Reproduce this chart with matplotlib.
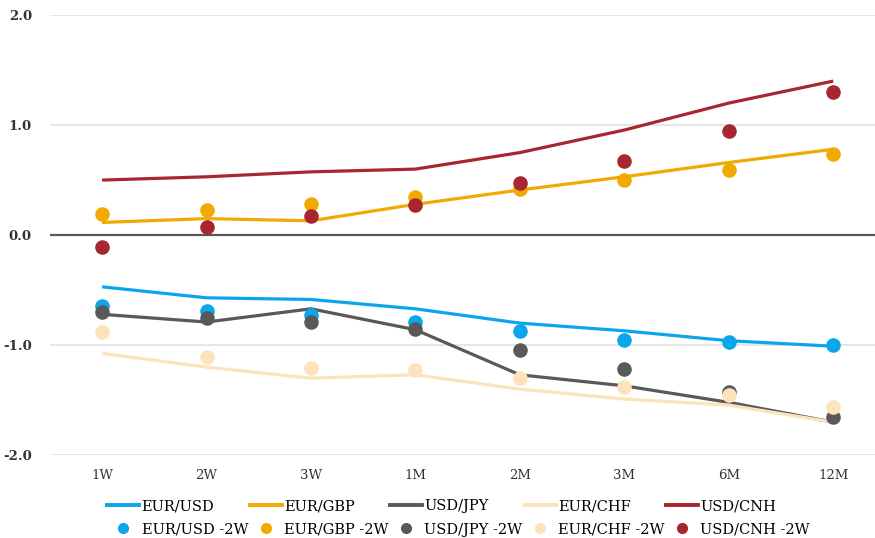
import matplotlib.pyplot as plt
from matplotlib.lines import Line2D

tenors = ["1W", "2W", "3W", "1M", "2M", "3M", "6M", "12M"]

# current values (lines)
eurusd = [-0.47, -0.57, -0.585, -0.67, -0.80, -0.87, -0.96, -1.01]
eurgbp = [0.115, 0.15, 0.13, 0.28, 0.41, 0.53, 0.66, 0.78]
usdjpy = [-0.72, -0.79, -0.67, -0.86, -1.27, -1.37, -1.52, -1.70]
eurchf = [-1.075, -1.20, -1.30, -1.27, -1.40, -1.49, -1.545, -1.70]
usdcnh = [0.50, 0.53, 0.575, 0.60, 0.75, 0.955, 1.20, 1.40]

# two weeks ago (dots)
eurusd_2w = [-0.64, -0.69, -0.73, -0.79, -0.87, -0.95, -0.975, -1.0]
eurgbp_2w = [0.19, 0.23, 0.28, 0.35, 0.415, 0.50, 0.59, 0.74]
usdjpy_2w = [-0.70, -0.75, -0.79, -0.855, -1.045, -1.22, -1.43, -1.65]
eurchf_2w = [-0.885, -1.11, -1.21, -1.23, -1.30, -1.385, -1.455, -1.56]
usdcnh_2w = [-0.106, 0.075, 0.17, 0.27, 0.47, 0.67, 0.95, 1.30]

series = [
    ("EUR/USD", eurusd, eurusd_2w, "#0ba5ec"),
    ("EUR/GBP", eurgbp, eurgbp_2w, "#f0aa00"),
    ("USD/JPY", usdjpy, usdjpy_2w, "#595959"),
    ("EUR/CHF", eurchf, eurchf_2w, "#fde3bb"),
    ("USD/CNH", usdcnh, usdcnh_2w, "#a8262f"),
]

plt.rcParams["font.family"] = ["DejaVu Serif"]

fig = plt.figure(figsize=(8.75, 5.38), dpi=100)
ax = fig.add_axes([0.057, 0.154, 0.943, 0.818])

x = list(range(len(tenors)))
handles = []
for name, vals, vals2w, col in series:
    ax.plot(x, vals, color=col, lw=2.3, zorder=3, solid_capstyle="butt")
    ax.scatter(x, vals2w, s=110, color=col, zorder=4, linewidths=0)
    handles.append(Line2D([], [], color=col, lw=2.8, label=name))
    handles.append(Line2D([], [], color=col, lw=0, marker="o", markersize=7,
                          label=f"{name} -2W"))

ax.axhline(0, color="#595959", lw=1.6, zorder=2)
ax.set_ylim(-2, 2)
ax.set_xlim(-0.5, 7.4)
ax.set_yticks([-2, -1, 0, 1, 2])
ax.set_yticklabels(["-2.0", "-1.0", "0.0", "1.0", "2.0"])
ax.set_xticks(x)
ax.set_xticklabels(tenors)
ax.grid(axis="y", color="#e2e2e2", lw=1.2, zorder=0)
ax.set_axisbelow(True)
for s in ax.spines.values():
    s.set_visible(False)
ax.tick_params(length=0, labelsize=9.5, colors="#333333")
ax.tick_params(axis="y", pad=13)
ax.tick_params(axis="x", pad=10)
for lab in ax.get_yticklabels():
    lab.set_fontweight("bold")

fig.legend(handles=handles, ncol=5, loc="lower left",
           bbox_to_anchor=(0.121, 0.0), frameon=False, fontsize=10.5,
           handlelength=2.2, handletextpad=0.15, columnspacing=0.1,
           labelspacing=0.65, borderpad=0.1, borderaxespad=0.0)

fig.savefig("out.png", dpi=100)
